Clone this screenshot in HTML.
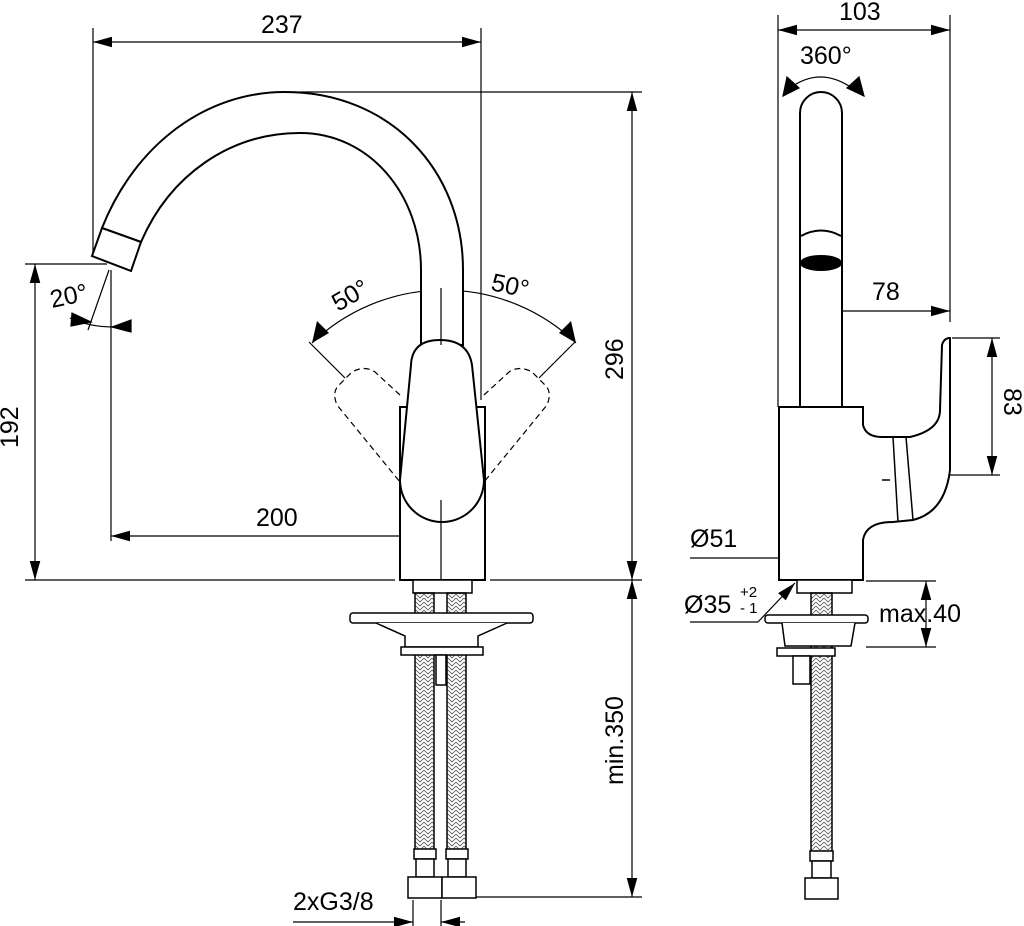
<!DOCTYPE html>
<html><head><meta charset="utf-8"><style>
html,body{margin:0;padding:0;background:#fff;}
svg{display:block;}
text{font-family:"Liberation Sans",sans-serif;fill:#000;}
</style></head><body>
<svg width="1024" height="926" viewBox="0 0 1024 926" xmlns="http://www.w3.org/2000/svg">
<defs>
<marker id="a" viewBox="0 0 18 10" refX="18" refY="5" markerWidth="19" markerHeight="11" markerUnits="userSpaceOnUse" orient="auto-start-reverse"><path d="M0,0L18,5L0,10Z" fill="#000"/></marker>
<pattern id="br" width="8" height="8" patternUnits="userSpaceOnUse"><path d="M0,2L4,6L8,2M0,6L4,10L8,6M0,-2L4,2L8,-2" fill="none" stroke="#555" stroke-width="0.8"/></pattern>
</defs>
<g fill="none" stroke="#000" stroke-width="1.2">
<line x1="93" y1="28" x2="93" y2="252"/>
<line x1="481" y1="28" x2="481" y2="400"/>
<line x1="93" y1="42" x2="481" y2="42" marker-start="url(#a)" marker-end="url(#a)"/>
<line x1="285" y1="92" x2="642" y2="92"/>
<line x1="632" y1="92" x2="632" y2="580" marker-start="url(#a)" marker-end="url(#a)"/>
<line x1="25" y1="580" x2="395" y2="580"/>
<line x1="490" y1="580" x2="642" y2="580"/>
<line x1="25" y1="264" x2="107" y2="264"/>
<line x1="35" y1="264" x2="35" y2="580" marker-start="url(#a)" marker-end="url(#a)"/>
<line x1="111" y1="270" x2="111" y2="541"/>
<line x1="111" y1="536" x2="441" y2="536" marker-start="url(#a)" marker-end="url(#a)"/>
<line x1="441" y1="288" x2="441" y2="580"/>
<line x1="109" y1="270" x2="88" y2="330"/>
<path d="M70,318 Q95,330 131,326" />
<path d="M72,313L91,322L71,326Z" fill="#000"/>
<path d="M131,320L131,332L112,327Z" fill="#000"/>
<path d="M312,343 A191,191 0 0 1 576,343" />
<path d="M312,343 L317,321 L329,333Z" fill="#000" stroke="none"/>
<path d="M576,343 L571,321 L559,333Z" fill="#000" stroke="none"/>
<path d="M421,292 L441,289 L421,300Z" fill="#000"/>
<path d="M461,292 L441,289 L461,300Z" fill="#000"/>
<line x1="309" y1="342" x2="345" y2="378"/>
<line x1="575" y1="342" x2="539" y2="378"/>
<path d="M400,395 L375,372 Q365,365 352,372 L338,386 Q332,393 337,405 L400,482" stroke-dasharray="6,4"/>
<path d="M484,395 L509,372 Q519,365 532,372 L546,386 Q552,393 547,405 L484,482" stroke-dasharray="6,4"/>
</g>
<g fill="#fff" stroke="#000" stroke-width="2">
<path d="M102,228 C135,145 205,92 285,92 C390,92 463,170 463,270 L463,345 L421,345 L421,270 C421,195 370,133 300,133 C230,133 170,175 141,242 Z"/>
<path d="M102,228 L141,242 L131,271 L92,256 Z"/>
<rect x="400" y="407" width="85" height="173"/>
<rect x="413" y="580" width="59" height="13" stroke-width="1.5"/>
<path d="M411,365 Q412,340 440,340 Q468,340 472,365 L484,480 A42,42 0 0 1 400,480 Z"/>
</g>
<line x1="441" y1="288" x2="441" y2="345" stroke="#000" stroke-width="1.2"/>
<line x1="441" y1="500" x2="441" y2="580" stroke="#000" stroke-width="1.2"/>
<g stroke="#000" stroke-width="1.5">
<rect x="415" y="593" width="19" height="262" fill="url(#br)"/>
<rect x="447" y="593" width="19" height="262" fill="url(#br)"/>
<rect x="350" y="613" width="183" height="10" rx="3" fill="#fff"/>
<path d="M376,623 L405,636 L405,647 L478,647 L478,636 L507,623" fill="#fff"/>
<rect x="401" y="647" width="82" height="8" fill="#fff"/>
<rect x="436" y="655" width="10" height="30" fill="#fff"/>
<rect x="414" y="849" width="22" height="10" fill="#fff"/>
<rect x="446" y="849" width="22" height="10" fill="#fff"/>
<rect x="416" y="859" width="18" height="18" fill="#fff"/>
<rect x="448" y="859" width="18" height="18" fill="#fff"/>
<rect x="408" y="877" width="34" height="21" fill="#fff"/>
<rect x="442" y="877" width="34" height="21" fill="#fff"/>
</g>
<g stroke="#000" stroke-width="1.2" fill="none">
<line x1="632" y1="580" x2="632" y2="897" marker-start="url(#a)" marker-end="url(#a)"/>
<line x1="476" y1="897" x2="642" y2="897"/>
<line x1="413" y1="900" x2="413" y2="926"/>
<line x1="441" y1="900" x2="441" y2="926"/>
<line x1="293" y1="922" x2="413" y2="922" marker-end="url(#a)"/>
<line x1="465" y1="922" x2="441" y2="922" marker-end="url(#a)"/>
</g>
<g fill="none" stroke="#000" stroke-width="1.2">
<line x1="778" y1="15" x2="778" y2="407"/>
<line x1="950" y1="15" x2="950" y2="322"/>
<line x1="778" y1="30" x2="950" y2="30" marker-start="url(#a)" marker-end="url(#a)"/>
<path d="M790,88 Q820,66 852,88"/>
<path d="M783,96 L787,77 L799,88Z" fill="#000"/>
<path d="M864,96 L859,77 L847,88Z" fill="#000"/>
<line x1="820" y1="305" x2="820" y2="407"/>
<line x1="820" y1="311" x2="950" y2="311" marker-start="url(#a)" marker-end="url(#a)"/>
<line x1="952" y1="338" x2="1000" y2="338"/>
<line x1="950" y1="475" x2="1000" y2="475"/>
<line x1="992" y1="338" x2="992" y2="475" marker-start="url(#a)" marker-end="url(#a)"/>
<line x1="690" y1="558" x2="779" y2="558"/>
<line x1="779" y1="558" x2="863" y2="558" marker-start="url(#a)" marker-end="url(#a)"/>
<line x1="690" y1="622" x2="758" y2="622"/>
<line x1="758" y1="622" x2="795" y2="583" marker-end="url(#a)"/>
<line x1="866" y1="581" x2="936" y2="581"/>
<line x1="866" y1="647" x2="936" y2="647"/>
<line x1="926" y1="581" x2="926" y2="647" marker-start="url(#a)" marker-end="url(#a)"/>
</g>
<g fill="#fff" stroke="#000" stroke-width="2">
<path d="M800,407 L800,113 A21,21 0 0 1 842,113 L842,407"/>
<path d="M801,236 Q821,225 841,236" fill="none"/>
<ellipse cx="821" cy="263" rx="20" ry="7" fill="#000"/>
<path d="M779,407 L863,407 L863,425 Q866,437 882,437 L910,437 Q940,430 940,410 L942,345 Q944,338 950,338 L950,470 Q945,512 913,520 L893,522 Q866,522 863,540 L863,580 L779,580 Z"/>
<path d="M893,437 L898,522 M906,437 L913,520" fill="none" stroke-width="1.5"/>
<line x1="882" y1="480" x2="890" y2="480" stroke-width="1.5"/>
</g>
<g stroke="#000" stroke-width="1.5">
<rect x="797" y="580" width="55" height="13" fill="#fff"/>
<rect x="811" y="593" width="21" height="262" fill="url(#br)"/>
<rect x="765" y="615" width="103" height="8" rx="3" fill="#fff"/>
<path d="M782,623 L785,646 L851,646 L855,623" fill="#fff"/>
<rect x="777" y="648" width="58" height="8" fill="#fff"/>
<rect x="793" y="656" width="17" height="28" fill="#fff"/>
<rect x="810" y="851" width="23" height="10" fill="#fff"/>
<rect x="812" y="861" width="19" height="17" fill="#fff"/>
<rect x="805" y="878" width="33" height="21" fill="#fff"/>
</g>
<g font-size="25">
<text x="261" y="33">237</text>
<text x="839" y="20">103</text>
<text x="800" y="64">360°</text>
<text x="872" y="300">78</text>
<text x="256" y="526">200</text>
<text x="690" y="547">Ø51</text>
<text x="684" y="613">Ø35</text>
<text x="740" y="597" font-size="15">+2</text>
<text x="740" y="613" font-size="15">- 1</text>
<text x="879" y="622">max.40</text>
<text x="293" y="910">2xG3/8</text>
<text transform="translate(52,308) rotate(-12)">20°</text>
<text transform="translate(338,312) rotate(-30)">50°</text>
<text transform="translate(490,290) rotate(12)">50°</text>
<text transform="translate(623,380) rotate(-90)">296</text>
<text transform="translate(18,448) rotate(-90)">192</text>
<text transform="translate(623,785) rotate(-90)">min.350</text>
<text transform="translate(1004,388) rotate(90)">83</text>
</g>
</svg>
</body></html>
